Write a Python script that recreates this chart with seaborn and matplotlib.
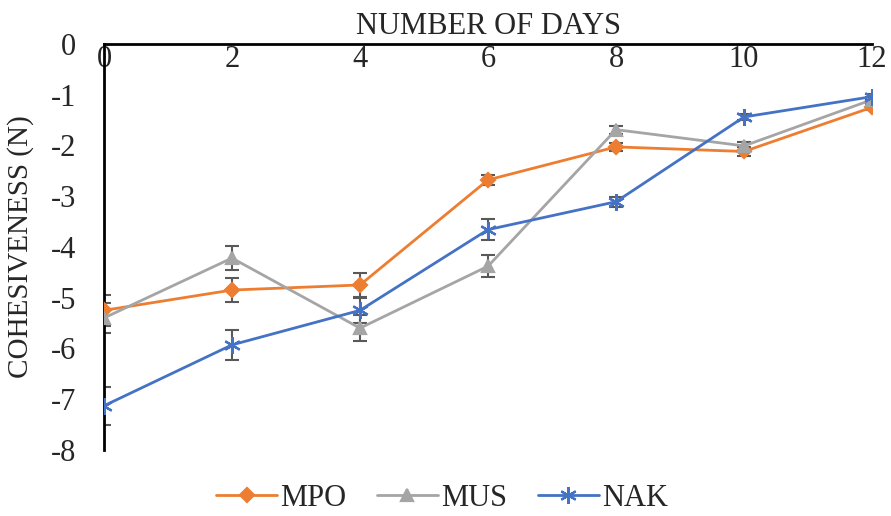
import matplotlib
matplotlib.use("Agg")
import matplotlib.pyplot as plt
import seaborn as sns
import pandas as pd
import numpy as np

days = [0, 2, 4, 6, 8, 10, 12]
mpo = [-5.25, -4.85, -4.75, -2.68, -2.03, -2.12, -1.25]
mus = [-5.40, -4.22, -5.60, -4.38, -1.69, -2.01, -1.10]
nak = [-7.13, -5.93, -5.25, -3.66, -3.11, -1.44, -1.04]
mpo_err = [0.30, 0.24, 0.24, 0.10, 0.08, 0.08, 0.06]
mus_err = [0.30, 0.23, 0.25, 0.22, 0.08, 0.08, 0.06]
nak_err = [0.37, 0.30, 0.25, 0.20, 0.10, 0.06, 0.06]

series = {
    "MPO": (mpo, mpo_err, "#ED7D31", "D", 7),
    "MUS": (mus, mus_err, "#A5A5A5", "^", 9),
    "NAK": (nak, nak_err, "#4472C4", (6, 2, 0), 12),
}

sns.set_style("white")
plt.rcParams["font.family"] = ["Liberation Serif", "DejaVu Serif"]
plt.rcParams["axes.unicode_minus"] = False

fig = plt.figure(figsize=(8.91, 5.16), dpi=100)
ax = fig.add_axes([0.1167, 0.128, 0.862, 0.787])

for name, (vals, err, col, mk, ms) in series.items():
    df = pd.DataFrame({"day": days, "val": vals})
    ax.errorbar(days, vals, yerr=err, fmt="none", ecolor="#595959",
                elinewidth=1.5, capsize=5, capthick=1.5, zorder=2)
    sns.lineplot(data=df, x="day", y="val", ax=ax, color=col, marker=mk,
                 markersize=ms, markeredgecolor=col, markeredgewidth=1.6,
                 linewidth=2, label=name, zorder=3)

ax.set_xlim(0, 12)
ax.set_ylim(-8, 0)
ax.set_xticks(days)
ax.set_yticks(range(-8, 1))
ax.xaxis.tick_top()
ax.xaxis.set_label_position("top")
ax.tick_params(axis="x", length=0, pad=-22, labelsize=22)
ax.tick_params(axis="y", length=0, pad=20, labelsize=22)
ax.set_xlabel("NUMBER OF DAYS", fontsize=22, labelpad=7)
ax.set_ylabel("COHESIVENESS (N)", fontsize=21, labelpad=12)

for s in ["right", "bottom"]:
    ax.spines[s].set_visible(False)
for s in ["top", "left"]:
    ax.spines[s].set_color("black")
    ax.spines[s].set_linewidth(2)

ax.legend(loc="upper center", bbox_to_anchor=(0.44, -0.015), ncol=3,
          frameon=False, fontsize=22, handlelength=2.0, handletextpad=0.1,
          columnspacing=1.0)

fig.savefig("out.png", dpi=100)
